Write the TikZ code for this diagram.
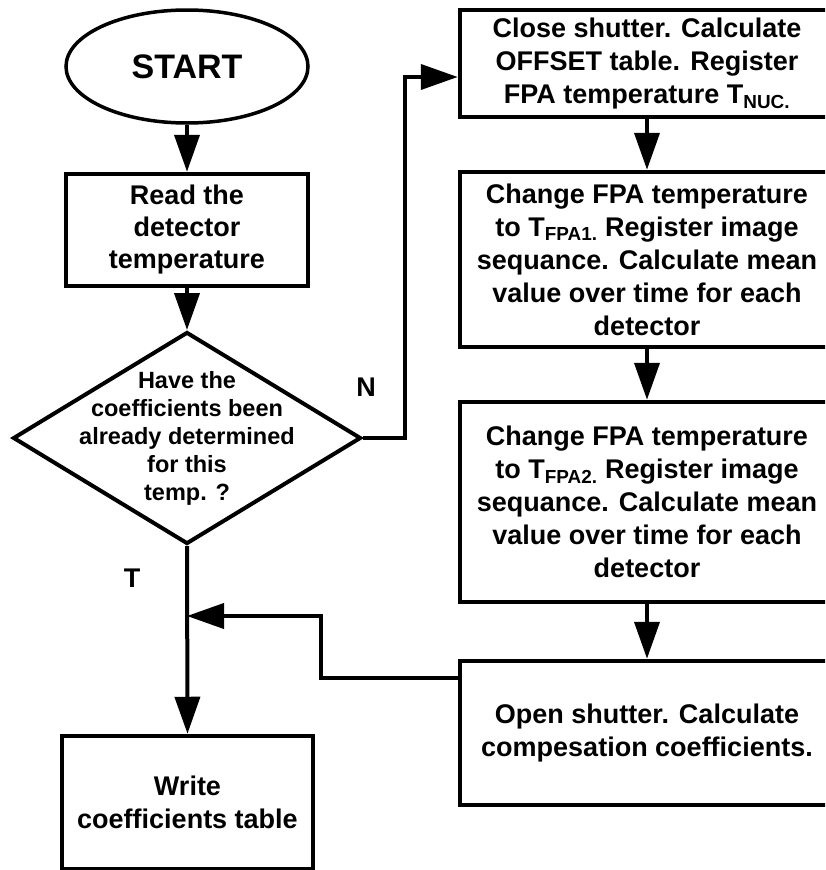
\documentclass[tikz,border=0pt]{standalone}
\usepackage{fontspec}
\setmainfont{Liberation Sans}
\usetikzlibrary{shapes.geometric,arrows.meta}
\begin{document}
\begin{tikzpicture}[x=1pt,y=-1pt,
  box/.style={draw,line width=4.5pt,rectangle,inner sep=0pt,align=center,
    font=\fontsize{27}{33}\selectfont\bfseries},
  flow/.style={line width=4pt,-{Triangle[length=37pt,width=25pt]}},
  plain/.style={line width=4pt},
  lbl/.style={font=\fontsize{27}{30}\selectfont\bfseries,inner sep=0pt}
]
\useasboundingbox (0,0) rectangle (825,870);
\clip (0,0) rectangle (825,870);
\fill[white] (0,0) rectangle (825,870);

% left column
\node[draw,ellipse,line width=3.5pt,minimum width=242pt,minimum height=113pt,inner sep=0pt,
  font=\fontsize{34}{36}\selectfont\bfseries] (start) at (187,66.5) {START};
\node[box,minimum width=242pt,minimum height=112pt,font=\fontsize{27}{32}\selectfont\bfseries]
  (read) at (187,230) {Read the\\detector\\temperature};
\node[draw,diamond,line width=4pt,minimum width=348pt,minimum height=212pt,inner sep=0pt]
  (dec) at (187,438) {};
\node[align=center,inner sep=0pt,font=\fontsize{23.5}{28}\selectfont\bfseries]
  (dectext) at (dec.center) {Have the\\coefficients been\\already determined\\for this\\temp. ?};
\node[box,minimum width=251pt,minimum height=133pt] (write) at (187.5,802.5)
  {Write\\coefficients table};

% right column
\node[box,minimum width=374pt,minimum height=107pt] (b1) at (647,63.5)
  {Close shutter. Calculate\\OFFSET table. Register\\FPA temperature T\textsubscript{NUC.}};
\node[box,minimum width=374pt,minimum height=175pt] (b2) at (647,259.5)
  {Change FPA temperature\\to T\textsubscript{FPA1.} Register image\\sequance. Calculate mean\\value over time for each\\detector};
\node[box,minimum width=374pt,minimum height=200pt] (b3) at (647,502)
  {Change FPA temperature\\to T\textsubscript{FPA2.} Register image\\sequance. Calculate mean\\value over time for each\\detector};
\node[box,minimum width=374pt,minimum height=144pt] (b4) at (647,733)
  {Open shutter. Calculate\\compesation coefficients.};

% labels
\node[lbl] (N) at (366,387) {N};
\node[lbl] (T) at (132,578) {T};

% connectors
\draw[flow] (start.south) -- (read.north);
\draw[flow] (read.south) -- (dec.north);
\draw[flow] (dec.south) -- (write.north);
\coordinate (nturn) at (405,77);
\draw[flow] (dec.east) -| (nturn) -- (b1.west |- nturn);
\draw[flow] (b1.south) -- (b2.north);
\draw[flow] (b2.south) -- (b3.north);
\draw[flow] (b3.south) -- (b4.north);
\coordinate (fb1) at (321,678);
\coordinate (fb2) at (321,616);
\draw[flow] (b4.west |- fb1) -- (fb1) -- (fb2) -- (dec.south |- fb2);
\end{tikzpicture}
\end{document}
